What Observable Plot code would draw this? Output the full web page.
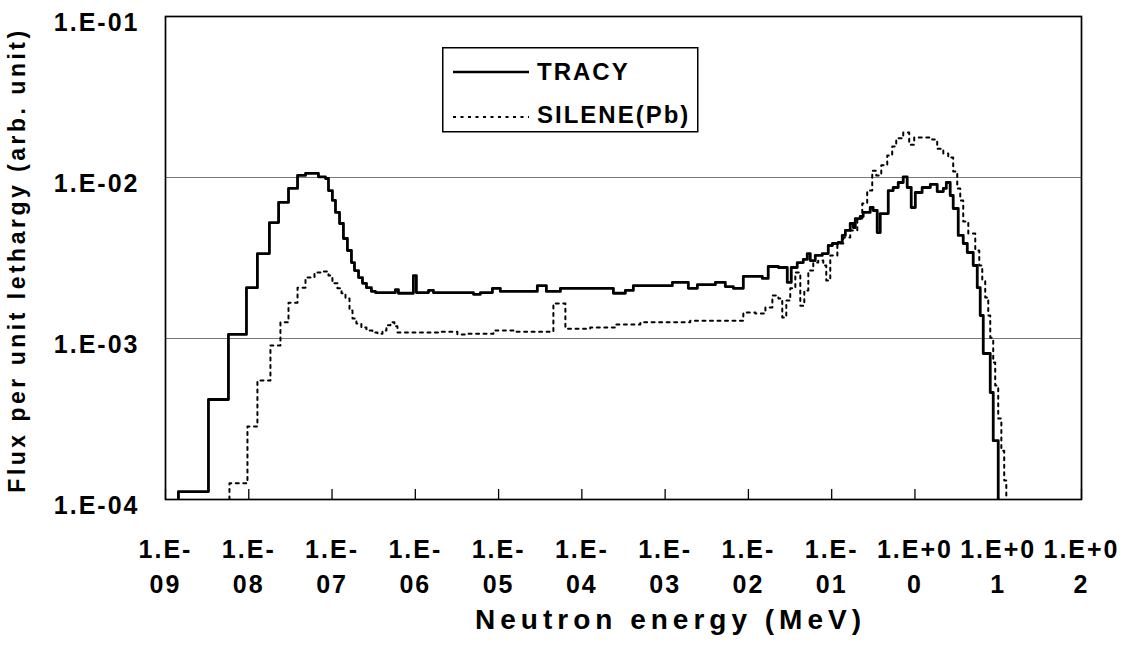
<!DOCTYPE html>
<html><head><meta charset="utf-8">
<script src="https://cdn.jsdelivr.net/npm/d3@7"></script>
<script src="https://cdn.jsdelivr.net/npm/@observablehq/plot@0.6"></script>
<style>
body{margin:0;background:#fff;}
#wrap{position:relative;width:1126px;height:649px;background:#fff;}
#wrap svg text{letter-spacing:2px;}
#legend{position:absolute;left:442px;top:47px;overflow:visible;}
#legend text{font-family:'Liberation Sans',Arial,sans-serif;font-weight:bold;font-size:24px;letter-spacing:2px;}
</style></head><body><div id="wrap"></div>
<script>
// Neutron energy (MeV) at the start of each step, flux per unit lethargy
const energyTracy = [1.43e-9, 1.43e-9, 3.28e-9, 5.70e-9, 9.38e-9, 1.27e-8, 1.77e-8, 2.28e-8, 3.00e-8, 3.85e-8,
  4.80e-8, 6.87e-8, 8.34e-8, 9.06e-8, 1.01e-7, 1.10e-7, 1.23e-7, 1.37e-7, 1.53e-7, 1.71e-7,
  1.86e-7, 2.08e-7, 2.32e-7, 2.59e-7, 2.97e-7, 3.32e-7, 5.77e-7, 6.27e-7, 9.48e-7, 1.03e-6,
  1.44e-6, 1.65e-6, 4.99e-6, 6.05e-6, 8.43e-6, 1.05e-5, 2.92e-5, 3.75e-5, 5.52e-5, 2.39e-4,
  3.33e-4, 4.15e-4, 1.22e-3, 1.90e-3, 2.44e-3, 4.01e-3, 5.28e-3, 6.59e-3, 8.69e-3, 1.47e-2,
  1.73e-2, 2.29e-2, 2.93e-2, 3.27e-2, 3.86e-2, 4.56e-2, 5.09e-2, 5.53e-2, 6.35e-2, 7.71e-2,
  9.10e-2, 0.102, 0.120, 0.134, 0.146, 0.167, 0.182, 0.192, 0.220, 0.239,
  0.290, 0.315, 0.352, 0.383, 0.478, 0.548, 0.630, 0.723, 0.807, 0.902,
  1.01, 1.22, 1.53, 1.85, 2.19, 2.38, 2.65, 2.88, 3.31, 3.80,
  4.25, 5.01, 5.60, 6.08, 6.61, 8.02, 8.71, 10.0];
const fluxTracy = [1e-4, 1.12e-4, 4.18e-4, 1.06e-3, 2.07e-3, 3.37e-3, 5.25e-3, 7.0e-3, 8.55e-3, 1.03e-2,
  1.06e-2, 1.01e-2, 9.86e-3, 8.30e-3, 7.20e-3, 6.07e-3, 5.18e-3, 4.18e-3, 3.52e-3, 2.96e-3,
  2.64e-3, 2.39e-3, 2.20e-3, 2.07e-3, 1.96e-3, 1.93e-3, 2.01e-3, 1.91e-3, 2.46e-3, 1.93e-3,
  1.99e-3, 1.93e-3, 1.88e-3, 1.93e-3, 2.05e-3, 1.96e-3, 2.13e-3, 1.96e-3, 2.05e-3, 1.91e-3,
  1.99e-3, 2.13e-3, 2.23e-3, 2.05e-3, 2.16e-3, 2.23e-3, 2.10e-3, 2.05e-3, 2.43e-3, 2.36e-3,
  2.80e-3, 2.76e-3, 2.23e-3, 2.76e-3, 2.96e-3, 3.10e-3, 3.37e-3, 3.05e-3, 3.28e-3, 3.37e-3,
  3.78e-3, 3.89e-3, 3.95e-3, 4.37e-3, 4.69e-3, 5.18e-3, 4.89e-3, 5.56e-3, 5.73e-3, 6.07e-3,
  6.51e-3, 6.24e-3, 4.55e-3, 5.97e-3, 8.30e-3, 8.67e-3, 9.31e-3, 1.01e-2, 8.67e-3, 6.51e-3,
  8.07e-3, 8.67e-3, 9.06e-3, 8.18e-3, 8.55e-3, 9.31e-3, 7.73e-3, 6.42e-3, 4.37e-3, 3.89e-3,
  3.42e-3, 2.84e-3, 2.07e-3, 1.39e-3, 8.07e-4, 4.62e-4, 2.32e-4, 1e-4];

const energySilene = [5.86e-9, 5.86e-9, 9.64e-9, 1.27e-8, 1.82e-8, 2.40e-8, 3.00e-8, 3.85e-8, 4.80e-8, 6.15e-8,
  7.26e-8, 9.06e-8, 1.01e-7, 1.16e-7, 1.30e-7, 1.45e-7, 1.62e-7, 1.76e-7, 1.96e-7, 2.25e-7,
  2.59e-7, 3.05e-7, 3.51e-7, 4.03e-7, 4.50e-7, 5.02e-7, 5.61e-7, 6.10e-7, 2.00e-6, 3.20e-6,
  4.23e-6, 8.67e-6, 1.59e-5, 4.55e-5, 6.34e-5, 1.26e-4, 2.52e-4, 5.04e-4, 2.00e-3, 8.69e-3,
  1.21e-2, 1.60e-2, 1.94e-2, 2.29e-2, 2.55e-2, 2.85e-2, 3.18e-2, 3.66e-2, 4.20e-2, 4.69e-2,
  5.24e-2, 6.01e-2, 6.90e-2, 7.93e-2, 8.61e-2, 9.62e-2, 0.117, 0.138, 0.167, 0.203,
  0.233, 0.267, 0.307, 0.343, 0.394, 0.465, 0.533, 0.596, 0.723, 0.853,
  0.98, 1.16, 1.61, 1.85, 2.19, 2.51, 2.88, 3.22, 3.50, 3.80,
  4.37, 5.30, 5.92, 6.43, 6.98, 7.59, 8.02, 8.71, 9.2, 10.0,
  10.9, 11.8, 12.5];
const fluxSilene = [1e-4, 1.26e-4, 2.84e-4, 5.48e-4, 9.06e-4, 1.26e-3, 1.67e-3, 2.07e-3, 2.39e-3, 2.57e-3,
  2.61e-3, 2.46e-3, 2.20e-3, 2.05e-3, 1.91e-3, 1.77e-3, 1.49e-3, 1.33e-3, 1.24e-3, 1.17e-3,
  1.12e-3, 1.09e-3, 1.07e-3, 1.12e-3, 1.21e-3, 1.26e-3, 1.19e-3, 1.09e-3, 1.10e-3, 1.06e-3,
  1.07e-3, 1.12e-3, 1.10e-3, 1.65e-3, 1.15e-3, 1.17e-3, 1.22e-3, 1.26e-3, 1.29e-3, 1.45e-3,
  1.43e-3, 1.56e-3, 1.85e-3, 1.77e-3, 1.35e-3, 1.72e-3, 2.05e-3, 2.57e-3, 1.60e-3, 1.99e-3,
  2.64e-3, 2.96e-3, 3.05e-3, 2.84e-3, 2.29e-3, 3.28e-3, 3.89e-3, 4.24e-3, 4.69e-3, 5.56e-3,
  6.90e-3, 8.30e-3, 1.10e-2, 1.03e-2, 1.19e-2, 1.37e-2, 1.56e-2, 1.75e-2, 1.90e-2, 1.60e-2,
  1.77e-2, 1.77e-2, 1.72e-2, 1.51e-2, 1.41e-2, 1.33e-2, 1.09e-2, 8.55e-3, 7.20e-3, 5.33e-3,
  4.49e-3, 3.52e-3, 2.84e-3, 2.29e-3, 1.80e-3, 1.39e-3, 1.01e-3, 7.10e-4, 5.11e-4, 3.18e-4,
  2.01e-4, 1.31e-4, 1e-4];

const xTicks = [1e-9, 1e-8, 1e-7, 1e-6, 1e-5, 1e-4, 1e-3, 1e-2, 1e-1, 1e0, 1e1, 1e2];
const xTickLabels = ["1.E-\n09", "1.E-\n08", "1.E-\n07", "1.E-\n06", "1.E-\n05", "1.E-\n04",
  "1.E-\n03", "1.E-\n02", "1.E-\n01", "1.E+0\n0", "1.E+0\n1", "1.E+0\n2"];
const yTicks = [1e-4, 1e-3, 1e-2, 1e-1];
const yTickLabels = ["1.E-04", "1.E-03", "1.E-02", "1.E-01"];
const yGrid = [1e-3, 1e-2];
const seriesNames = ["TRACY", "SILENE(Pb)"];
const xTitle = "Neutron energy (MeV)";
const yTitle = "Flux per unit lethargy (arb. unit)";

const tracy = energyTracy.map((e, i) => ({e, f: fluxTracy[i]}));
const silene = energySilene.map((e, i) => ({e, f: fluxSilene[i]}));

const chart = Plot.plot({
  width: 1126, height: 649,
  marginLeft: 165, marginRight: 45, marginTop: 16, marginBottom: 150,
  style: {fontFamily: "'Liberation Sans', Arial, sans-serif", fontWeight: "bold", color: "#000", background: "#fff"},
  x: {type: "log", domain: [1e-9, 1e2], axis: null},
  y: {type: "log", domain: [1e-4, 1e-1], axis: null},
  marks: [
    Plot.ruleY(yGrid, {y: d => d, stroke: "#7a7a7a", strokeWidth: 1}),
    Plot.tickX(xTicks, {x: d => d, insetTop: 473, stroke: "#000", strokeWidth: 1.3}),
    Plot.line(silene, {x: "e", y: "f", curve: "step-after", stroke: "#000", strokeWidth: 2, strokeDasharray: "3,4.5", clip: true}),
    Plot.line(tracy, {x: "e", y: "f", curve: "step-after", stroke: "#000", strokeWidth: 2.8, clip: true}),
    Plot.frame({stroke: "#000", strokeWidth: 1.7}),
    Plot.text(xTicks, {x: d => d, frameAnchor: "bottom", text: (d, i) => xTickLabels[i], lineAnchor: "top", dy: 34, lineHeight: 1.4, fontSize: 25, fill: "#000"}),
    Plot.text(yTicks, {y: d => d, frameAnchor: "left", text: (d, i) => yTickLabels[i], textAnchor: "end", dx: -26, dy: 6, fontSize: 25, fill: "#000"}),
    Plot.text([xTitle], {frameAnchor: "bottom", text: d => d, dx: 47, dy: 129, fontSize: 28, fill: "#000"}),
    Plot.text([yTitle], {frameAnchor: "left", text: d => d, textAnchor: "middle", rotate: -90, dx: -148, dy: 2, fontSize: 23, fill: "#000"})
  ]
});

d3.select(chart).selectAll("text").each(function () {
  const t = this.textContent;
  if (t === xTitle) this.style.letterSpacing = "5px";
  if (t === yTitle) this.style.letterSpacing = "3.5px";
});

document.getElementById("wrap").appendChild(chart);

// Legend box
const ns = "http://www.w3.org/2000/svg";
const leg = document.createElementNS(ns, "svg");
leg.setAttribute("id", "legend");
leg.setAttribute("width", 257);
leg.setAttribute("height", 86);
leg.innerHTML =
  '<rect x="0.75" y="0.75" width="255" height="84" fill="#fff" stroke="#000" stroke-width="1.5"/>' +
  '<line x1="11" x2="87" y1="25" y2="25" stroke="#000" stroke-width="2.7"/>' +
  '<text x="95" y="33"></text>' +
  '<line x1="11" x2="87" y1="70" y2="70" stroke="#000" stroke-width="2" stroke-dasharray="3,4.5"/>' +
  '<text x="95" y="76"></text>';
const lt = leg.querySelectorAll("text");
lt[0].textContent = seriesNames[0];
lt[1].textContent = seriesNames[1];
document.getElementById("wrap").appendChild(leg);
</script></body></html>
